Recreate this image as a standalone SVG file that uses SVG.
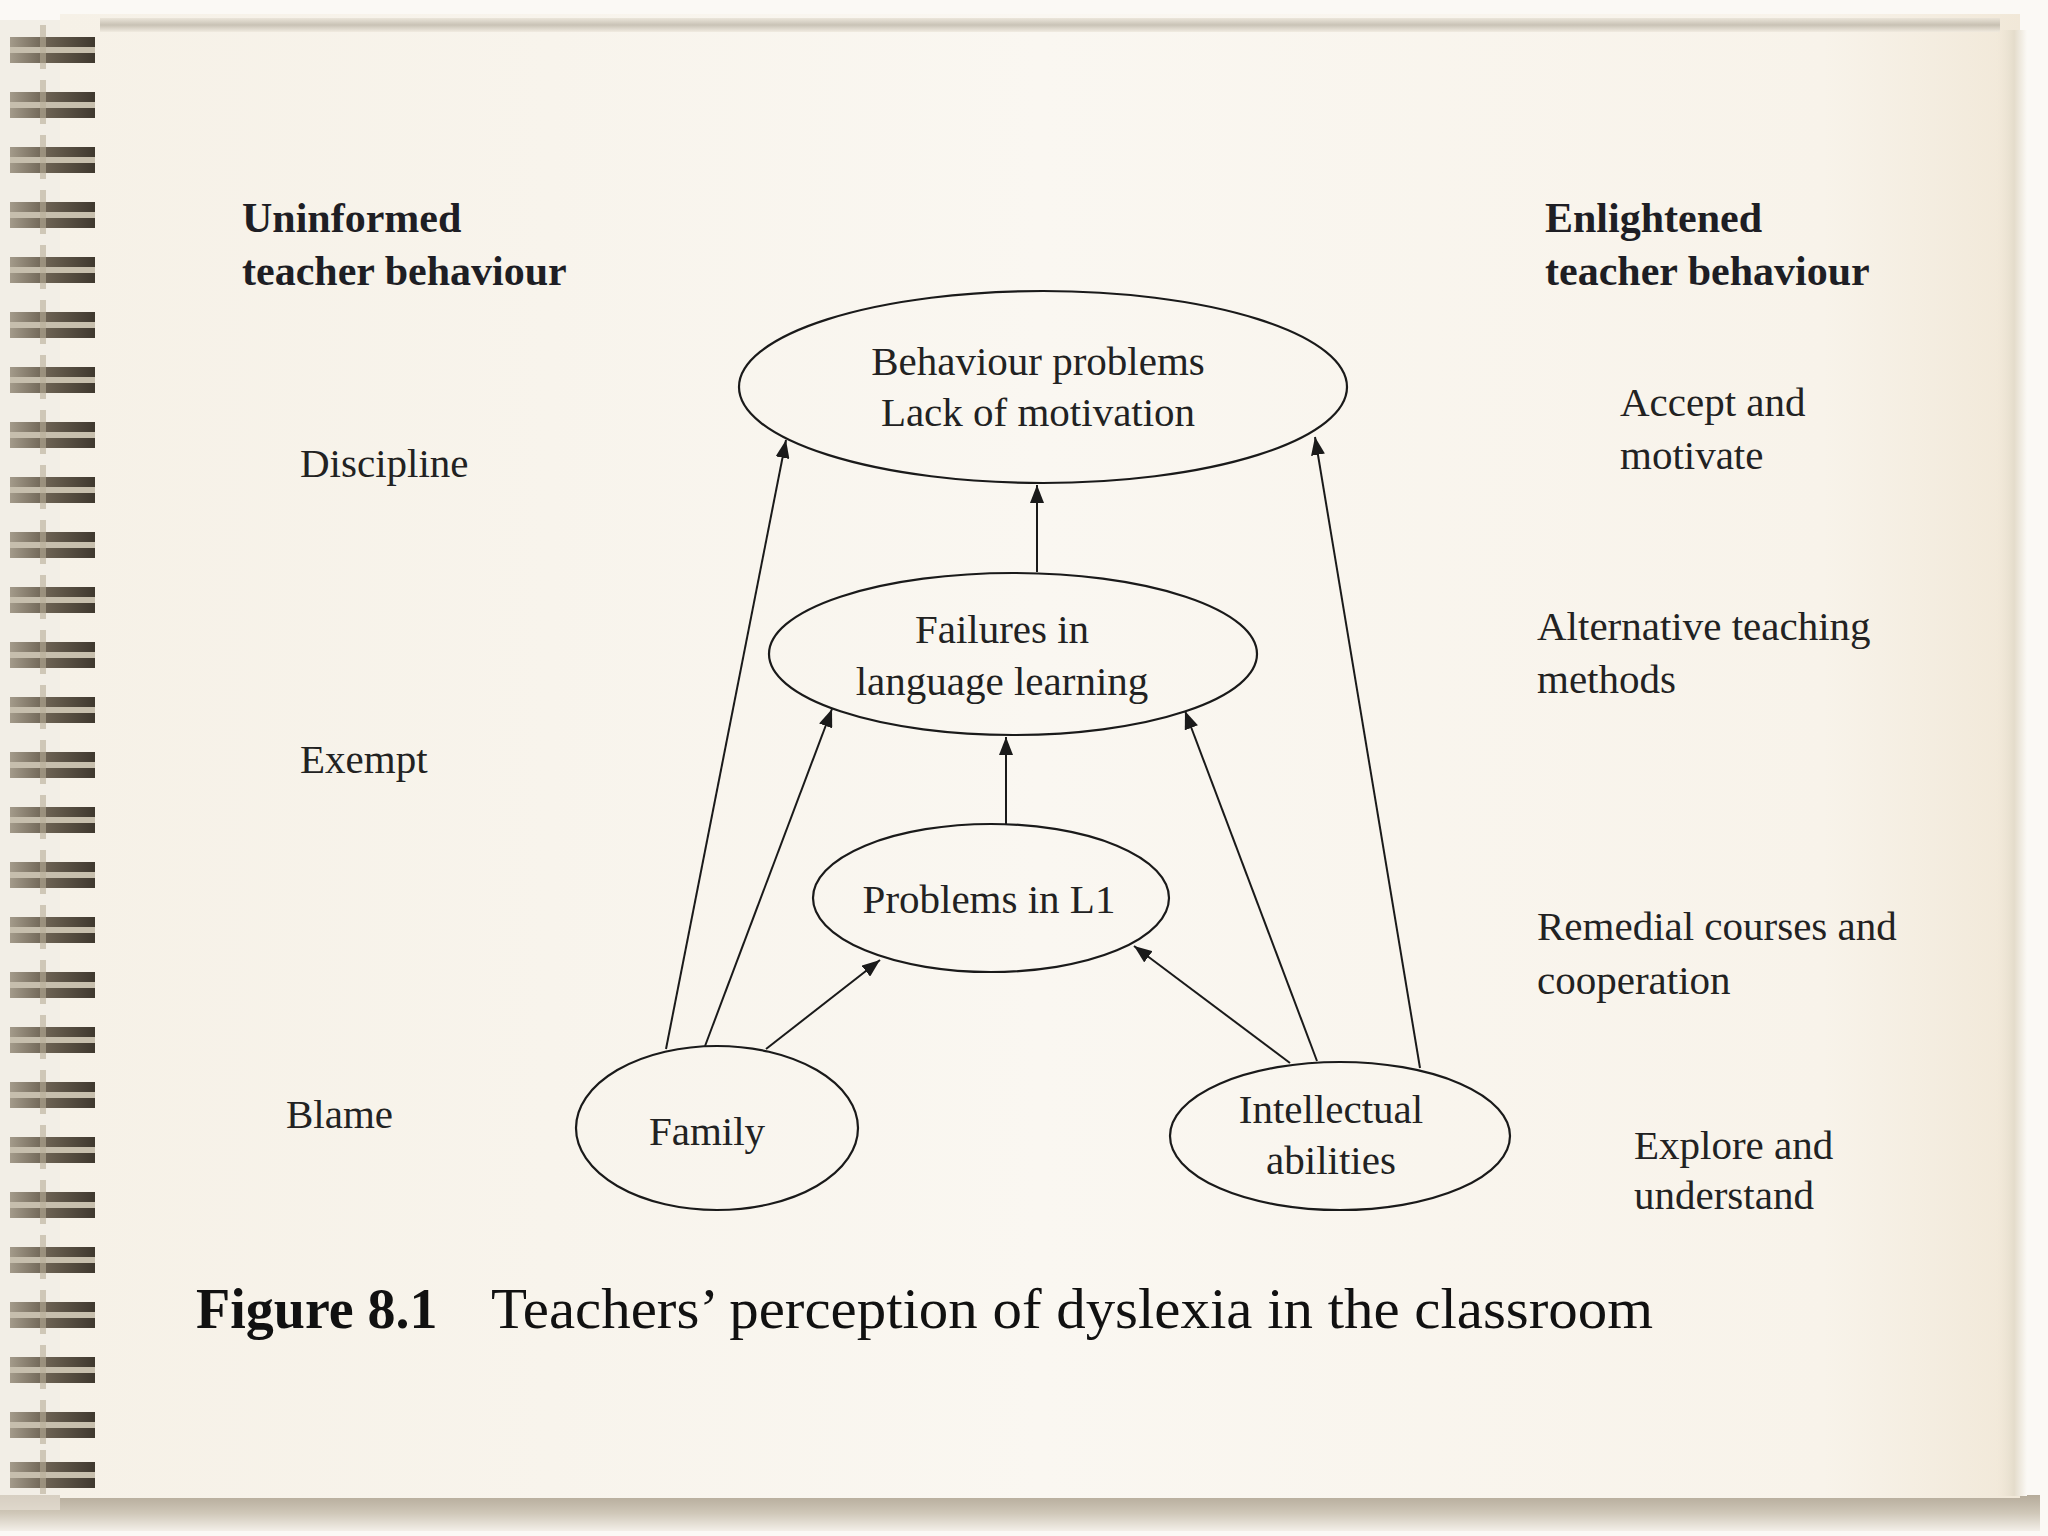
<svg xmlns="http://www.w3.org/2000/svg" width="2048" height="1536" viewBox="0 0 2048 1536">
  <defs>
    <linearGradient id="paper" x1="0" y1="0" x2="1" y2="0">
      <stop offset="0" stop-color="#f6f1e7"/>
      <stop offset="0.5" stop-color="#faf7f1"/>
      <stop offset="0.9" stop-color="#f8f3ea"/>
      <stop offset="1" stop-color="#f1e8d8"/>
    </linearGradient>
    <linearGradient id="bottomShadow" x1="0" y1="0" x2="0" y2="1">
      <stop offset="0" stop-color="#b5ab9a"/>
      <stop offset="0.5" stop-color="#cfc7b8"/>
      <stop offset="1" stop-color="#f3efe8"/>
    </linearGradient>
    <linearGradient id="topShadow" x1="0" y1="0" x2="0" y2="1">
      <stop offset="0" stop-color="#e8e2d6"/>
      <stop offset="0.5" stop-color="#bdb6a8"/>
      <stop offset="1" stop-color="#efe9de"/>
    </linearGradient>
    <linearGradient id="rightShadow" x1="0" y1="0" x2="1" y2="0">
      <stop offset="0" stop-color="#f1e8d8" stop-opacity="0"/>
      <stop offset="0.6" stop-color="#e4dccb"/>
      <stop offset="1" stop-color="#fbf9f5"/>
    </linearGradient>
    <linearGradient id="ringGrad" x1="0" y1="0" x2="1" y2="0">
      <stop offset="0" stop-color="#a39a8a"/>
      <stop offset="0.4" stop-color="#6e6455"/>
      <stop offset="1" stop-color="#3f382e"/>
    </linearGradient>
    <g id="ring">
      <rect x="10" y="0" width="85" height="10" fill="url(#ringGrad)"/>
      <rect x="10" y="10" width="85" height="6" fill="#b3a994" opacity="0.7"/>
      <rect x="10" y="16" width="85" height="10" fill="url(#ringGrad)"/>
      <rect x="40" y="-12" width="6" height="44" fill="#b8ad98" opacity="0.6"/>
    </g>
    <marker id="arrow" markerWidth="20" markerHeight="14" refX="18" refY="7" orient="auto" markerUnits="userSpaceOnUse">
      <path d="M0,0 L18,7 L0,14 Z" fill="#1a1a1a"/>
    </marker>
  </defs>
  <style>
    .node ellipse { fill: none; stroke: #1a1a1a; stroke-width: 2.2; }
    .txt { font-family: "Liberation Serif", "Times New Roman", serif; font-size: 41px; fill: #222; }
    .ntxt { font-family: "Liberation Serif", "Times New Roman", serif; font-size: 41px; fill: #222; text-anchor: middle; }
    .head { font-family: "Liberation Serif", "Times New Roman", serif; font-size: 42px; font-weight: bold; fill: #1e1e24; }
    .cap { font-family: "Liberation Serif", "Times New Roman", serif; font-size: 56px; fill: #111; }
    #connectors line { stroke: #1a1a1a; stroke-width: 2; marker-end: url(#arrow); }
  </style>

  <!-- background -->
  <rect x="0" y="0" width="2048" height="1536" fill="#fbf9f5"/>
  <rect x="0" y="1495" width="2040" height="36" fill="url(#bottomShadow)"/>
  <rect x="60" y="14" width="1960" height="1484" fill="url(#paper)"/>
  <rect x="100" y="18" width="1900" height="14" fill="url(#topShadow)" opacity="0.8"/>
  <rect x="1995" y="30" width="32" height="1466" fill="url(#rightShadow)"/>

  <!-- spiral binding -->
  <g id="spiral">
    <rect x="0" y="20" width="60" height="1490" fill="#ece6dc" opacity="0.6"/>
    <use href="#ring" y="37"/>
    <use href="#ring" y="92"/>
    <use href="#ring" y="147"/>
    <use href="#ring" y="202"/>
    <use href="#ring" y="257"/>
    <use href="#ring" y="312"/>
    <use href="#ring" y="367"/>
    <use href="#ring" y="422"/>
    <use href="#ring" y="477"/>
    <use href="#ring" y="532"/>
    <use href="#ring" y="587"/>
    <use href="#ring" y="642"/>
    <use href="#ring" y="697"/>
    <use href="#ring" y="752"/>
    <use href="#ring" y="807"/>
    <use href="#ring" y="862"/>
    <use href="#ring" y="917"/>
    <use href="#ring" y="972"/>
    <use href="#ring" y="1027"/>
    <use href="#ring" y="1082"/>
    <use href="#ring" y="1137"/>
    <use href="#ring" y="1192"/>
    <use href="#ring" y="1247"/>
    <use href="#ring" y="1302"/>
    <use href="#ring" y="1357"/>
    <use href="#ring" y="1412"/>
    <use href="#ring" y="1462"/>
  </g>

  <!-- side headings and behaviours -->
  <g id="left-labels">
    <text class="head" x="242" y="232">Uninformed</text>
    <text class="head" x="242" y="285">teacher behaviour</text>
    <text class="txt" x="300" y="477">Discipline</text>
    <text class="txt" x="300" y="773">Exempt</text>
    <text class="txt" x="286" y="1128">Blame</text>
  </g>
  <g id="right-labels">
    <text class="head" x="1545" y="232">Enlightened</text>
    <text class="head" x="1545" y="285">teacher behaviour</text>
    <text class="txt" x="1620" y="416">Accept and</text>
    <text class="txt" x="1620" y="469">motivate</text>
    <text class="txt" x="1537" y="640">Alternative teaching</text>
    <text class="txt" x="1537" y="693">methods</text>
    <text class="txt" x="1537" y="940">Remedial courses and</text>
    <text class="txt" x="1537" y="994">cooperation</text>
    <text class="txt" x="1634" y="1159">Explore and</text>
    <text class="txt" x="1634" y="1209">understand</text>
  </g>

  <!-- connectors -->
  <g id="connectors">
    <line x1="666" y1="1049" x2="786" y2="440"/>
    <line x1="705" y1="1046" x2="832" y2="709"/>
    <line x1="766" y1="1049" x2="880" y2="960"/>
    <line x1="1006" y1="825" x2="1006" y2="737"/>
    <line x1="1037" y1="572" x2="1037" y2="485"/>
    <line x1="1290" y1="1063" x2="1134" y2="946"/>
    <line x1="1317" y1="1061" x2="1185" y2="711"/>
    <line x1="1420" y1="1068" x2="1315" y2="437"/>
  </g>

  <!-- nodes -->
  <g id="node-behaviour" class="node">
    <ellipse cx="1043" cy="387" rx="304" ry="96"/>
    <text class="ntxt" x="1038" y="375">Behaviour problems</text>
    <text class="ntxt" x="1038" y="426">Lack of motivation</text>
  </g>
  <g id="node-failures" class="node">
    <ellipse cx="1013" cy="654" rx="244" ry="81"/>
    <text class="ntxt" x="1002" y="643">Failures in</text>
    <text class="ntxt" x="1002" y="695">language learning</text>
  </g>
  <g id="node-l1" class="node">
    <ellipse cx="991" cy="898" rx="178" ry="74"/>
    <text class="ntxt" x="989" y="913">Problems in L1</text>
  </g>
  <g id="node-family" class="node">
    <ellipse cx="717" cy="1128" rx="141" ry="82"/>
    <text class="ntxt" x="707" y="1145">Family</text>
  </g>
  <g id="node-intellectual" class="node">
    <ellipse cx="1340" cy="1136" rx="170" ry="74"/>
    <text class="ntxt" x="1331" y="1123">Intellectual</text>
    <text class="ntxt" x="1331" y="1174">abilities</text>
  </g>

  <!-- caption -->
  <g id="caption">
    <text class="cap" x="196" y="1328" font-weight="bold">Figure 8.1</text>
    <text class="cap" x="491" y="1328" textLength="1162" lengthAdjust="spacingAndGlyphs">Teachers’ perception of dyslexia in the classroom</text>
  </g>
</svg>
